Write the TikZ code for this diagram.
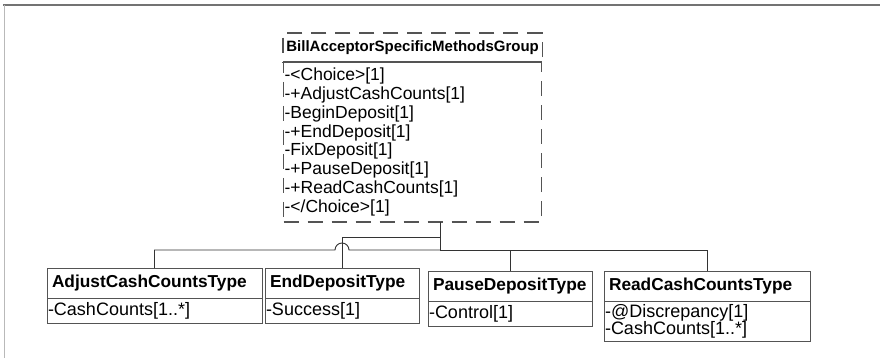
\documentclass[tikz,border=0pt]{standalone}
\usepackage{fontspec}
\setmainfont{Liberation Sans}
\usepackage{xcolor}
\usetikzlibrary{positioning,calc}

\definecolor{boxline}{gray}{0.33}
\definecolor{frameline}{gray}{0.45}

\begin{document}
\begin{tikzpicture}[x=1pt, y=-1pt,
  typehead/.style={rectangle, draw=boxline, line width=1pt, outer sep=0pt,
              minimum height=30pt, inner xsep=5pt, anchor=north west, align=left,
              font=\fontsize{17.3}{19}\selectfont\bfseries},
  typebody/.style={rectangle, draw=boxline, line width=1pt, outer sep=0pt,
              minimum height=25pt, inner xsep=1pt, inner ysep=3pt, align=left,
              font=\fontsize{18}{16.5}\selectfont},
  grouphead/.style={rectangle, draw=boxline, line width=1.2pt, outer sep=0pt,
              dash pattern=on 15pt off 9pt, minimum width=258pt, minimum height=29pt,
              anchor=north west, font=\fontsize{15}{19}\selectfont\bfseries},
  grouplist/.style={rectangle, draw=boxline, line width=1.2pt, outer sep=0pt,
              dash pattern=on 15pt off 9pt, minimum width=258pt, minimum height=160pt,
              text width=256pt, inner xsep=1pt, align=left,
              font=\fontsize{17.5}{18.9}\selectfont},
  wire/.style={draw=black!80, line width=0.9pt}
]
\useasboundingbox (0,0) rectangle (880,358);
% page frame
\draw[frameline, line width=1.2pt] (3,5) -- (880,5);
\draw[frameline!50, line width=0.8pt] (4,5) -- (4,358);

% group
\node[grouphead] (grouptitle) at (283,33) {BillAcceptorSpecificMethodsGroup};
\node[grouplist, below=0pt of grouptitle] (grouplist) {-<Choice>[1]\\
  -+AdjustCashCounts[1]\\
  -BeginDeposit[1]\\
  -+EndDeposit[1]\\
  -FixDeposit[1]\\
  -+PauseDeposit[1]\\
  -+ReadCashCounts[1]\\
  -</Choice>[1]};

% types
\node[typehead, text width=205pt] (adjusthead) at (47,268) {AdjustCashCountsType};
\node[typebody, below=0pt of adjusthead, text width=213pt] (adjustbody) {-CashCounts[1..*]};
\node[typehead, text width=144pt] (endhead) at (265,268) {EndDepositType};
\node[typebody, below=0pt of endhead, text width=152pt] (endbody) {-Success[1]};
\node[typehead, text width=154pt] (pausehead) at (428,271) {PauseDepositType};
\node[typebody, below=0pt of pausehead, text width=162pt] (pausebody) {-Control[1]};
\node[typehead, text width=196pt] (readhead) at (604,271) {ReadCashCountsType};
\node[typebody, below=0pt of readhead, text width=204pt] (readbody) {-@Discrepancy[1]\\-CashCounts[1..*]};

% connectors
\coordinate (split) at (440,250);
\coordinate (upper) at (440,237);
\draw[wire] (split |- grouplist.south) -- (split);
\draw[wire] (upper) -| (endhead.north);
\draw[wire] (split) -- ($(split -| endhead.north)+(7,0)$)
  arc[start angle=0, end angle=180, radius=7pt]
  -| (adjusthead.north);
\draw[wire] (split) -| (readhead.north);
\draw[wire] (split -| pausehead.north) -- (pausehead.north);
\end{tikzpicture}
\end{document}
